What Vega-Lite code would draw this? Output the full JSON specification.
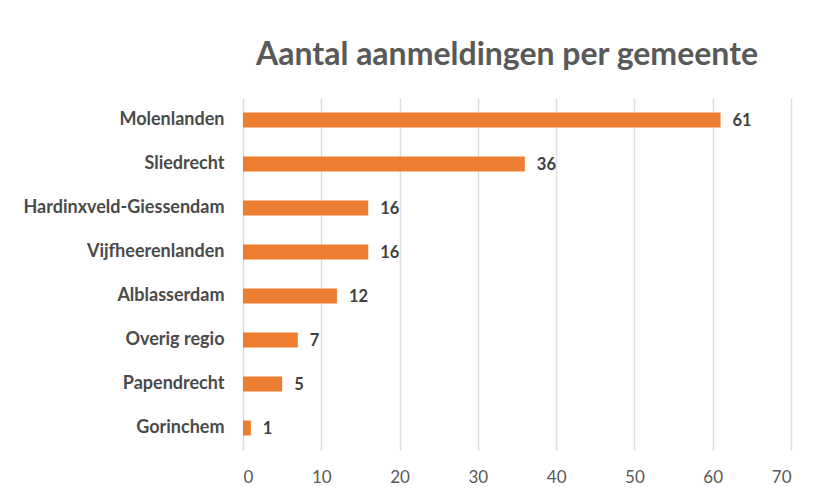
{
  "$schema": "https://vega.github.io/schema/vega-lite/v6.json",
  "autosize": "none",
  "width": 548,
  "height": 352,
  "padding": {"left": 243, "top": 98, "right": 24, "bottom": 43},
  "background": "white",
  "title": {
    "text": "Aantal aanmeldingen per gemeente",
    "font": "Lato",
    "fontSize": 32,
    "fontWeight": "bold",
    "color": "#595959",
    "anchor": "middle",
    "dx": -10,
    "offset": 26
  },
  "data": {
    "values": [
      {"gemeente": "Molenlanden", "aantal": 61},
      {"gemeente": "Sliedrecht", "aantal": 36},
      {"gemeente": "Hardinxveld-Giessendam", "aantal": 16},
      {"gemeente": "Vijfheerenlanden", "aantal": 16},
      {"gemeente": "Alblasserdam", "aantal": 12},
      {"gemeente": "Overig regio", "aantal": 7},
      {"gemeente": "Papendrecht", "aantal": 5},
      {"gemeente": "Gorinchem", "aantal": 1}
    ]
  },
  "encoding": {
    "y": {
      "field": "gemeente",
      "type": "nominal",
      "sort": null,
      "scale": {"paddingInner": 0, "paddingOuter": 0},
      "axis": {
        "title": null,
        "domain": false,
        "ticks": false,
        "labelFont": "Lato",
        "labelFontSize": 18,
        "labelFontWeight": "bold",
        "labelColor": "#4a4a4a",
        "labelPadding": 19,
        "labelLimit": 300
      }
    },
    "x": {
      "field": "aantal",
      "type": "quantitative",
      "scale": {"domain": [0, 70], "nice": false},
      "axis": {
        "title": null,
        "values": [0, 10, 20, 30, 40, 50, 60, 70],
        "domain": false,
        "ticks": false,
        "grid": true,
        "gridColor": "#dedede",
        "gridWidth": 1.5,
        "labelFont": "Lato",
        "labelFontSize": 17,
        "labelColor": "#595959",
        "labelPadding": 19
      }
    }
  },
  "layer": [
    {"mark": {"type": "bar", "color": "#ED7D31", "size": 15}},
    {
      "mark": {
        "type": "text",
        "align": "left",
        "dx": 12,
        "dy": 1,
        "font": "Lato",
        "fontSize": 16.5,
        "fontWeight": "bold",
        "color": "#404040"
      },
      "encoding": {"text": {"field": "aantal", "type": "quantitative"}}
    }
  ],
  "config": {"view": {"stroke": null}}
}
